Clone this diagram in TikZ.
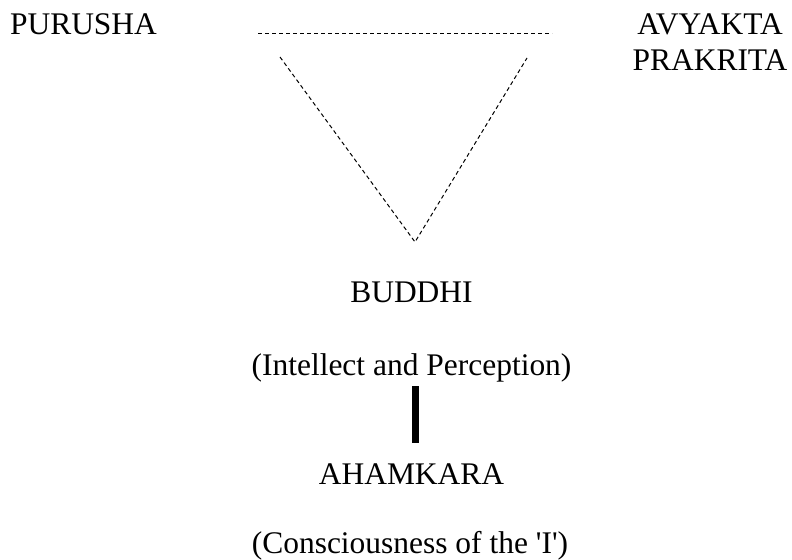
\documentclass[tikz,border=0pt]{standalone}
\usepackage{fontspec}
\setmainfont{Liberation Serif}[Ligatures=TeXOff]
\begin{document}
\begin{tikzpicture}[x=0.75pt,y=-0.75pt,
  lbl/.style={inner sep=0pt,font=\fontsize{23.6}{27}\selectfont},
  dashline/.style={line width=0.75pt,dash pattern=on 3pt off 2.25pt},
  bar/.style={line width=5.25pt}]
\useasboundingbox (0,0) rectangle (792,560);
\node[lbl,anchor=base] (purusha) at (83.5,35) {PURUSHA};
\node[lbl,anchor=north,align=center] (avyakta) at (710,13) {AVYAKTA\\[0pt]PRAKRITA};
\node[lbl,anchor=base] (buddhi) at (411.5,302) {BUDDHI};
\node[lbl,anchor=base] (intellect) at (411.5,375) {(Intellect and Perception)};
\node[lbl,anchor=base] (ahamkara) at (411.5,484) {AHAMKARA};
\node[lbl,anchor=base] (conscious) at (410,553) {(Consciousness of the 'I')};
\coordinate (h1) at (258,34);
\coordinate (h2) at (552,34);
\coordinate (d1) at (280,57);
\coordinate (d2) at (527,58);
\coordinate (apex) at (415,242);
\coordinate (b1) at (415.8,386);
\coordinate (b2) at (415.8,443);
\draw[dashline] (h1) -- (h2);
\draw[dashline] (d1) -- (apex) -- (d2);
\draw[bar] (b1) -- (b2);
\end{tikzpicture}
\end{document}
